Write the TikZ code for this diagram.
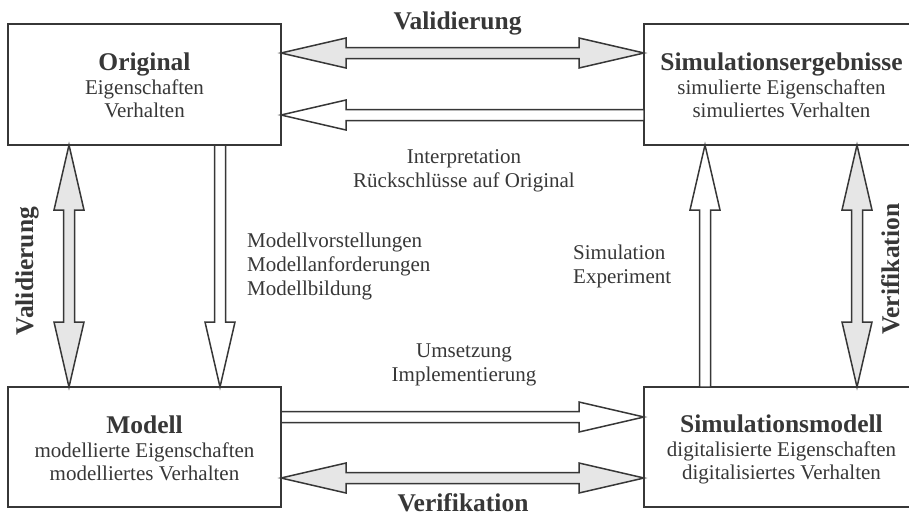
\documentclass[tikz,border=0pt]{standalone}
\usepackage{fontspec}
\setmainfont{Liberation Serif}
\usetikzlibrary{calc,positioning}

\definecolor{ink}{RGB}{55,55,55}
\definecolor{shade}{RGB}{230,230,230}

\newcommand{\headlen}{65pt}
\newcommand{\headw}{15pt}
\newcommand{\shaftw}{5.5pt}

% block arrow with one head, from #2 to #3
\newcommand{\onearrow}[3][white]{%
  \coordinate (hb) at ($(#3)!\headlen!(#2)$);
  \draw[blockarrow, fill=#1] ($(#2)!\shaftw!90:(#3)$) -- ($(hb)!\shaftw!90:(#3)$)
    -- ($(hb)!\headw!90:(#3)$) -- (#3) -- ($(hb)!\headw!-90:(#3)$)
    -- ($(hb)!\shaftw!-90:(#3)$) -- ($(#2)!\shaftw!-90:(#3)$) -- cycle;}

% block arrow with two heads
\newcommand{\twoarrow}[3][shade]{%
  \coordinate (ha) at ($(#2)!\headlen!(#3)$);
  \coordinate (hb) at ($(#3)!\headlen!(#2)$);
  \draw[blockarrow, fill=#1] (#2) -- ($(ha)!\headw!90:(#3)$) -- ($(ha)!\shaftw!90:(#3)$)
    -- ($(hb)!\shaftw!90:(#3)$) -- ($(hb)!\headw!90:(#3)$) -- (#3)
    -- ($(hb)!\headw!-90:(#3)$) -- ($(hb)!\shaftw!-90:(#3)$)
    -- ($(ha)!\shaftw!-90:(#3)$) -- ($(ha)!\headw!-90:(#3)$) -- cycle;}

\newcommand{\boxtitle}[1]{{\fontsize{25.5}{26}\selectfont\bfseries #1}}

\tikzset{
  box/.style={draw=ink, line width=1.8pt, inner sep=0pt, outer sep=0pt},
  boxtext/.style={text=ink, align=center, inner sep=0pt, anchor=base,
    font=\fontsize{21}{24}\selectfont},
  blockarrow/.style={draw=ink, line width=1.5pt},
  lbl/.style={text=ink, inner sep=0pt, font=\fontsize{21}{24}\selectfont},
  tag/.style={text=ink, inner sep=0pt, font=\fontsize{25.5}{26}\selectfont\bfseries}
}

\begin{document}
\begin{tikzpicture}[x=1pt, y=1pt]
  \useasboundingbox (0,0) rectangle (909,-517);

  % the four boxes
  \node[box, minimum width=273pt, minimum height=121pt] (orig) at (144.5,-84.5) {};
  \node[box, minimum width=275pt, minimum height=121pt] (sres) at (781.5,-84.5) {};
  \node[box, minimum width=273pt, minimum height=120pt] (modell) at (144.5,-447) {};
  \node[box, minimum width=275pt, minimum height=120pt] (smod) at (781.5,-447) {};

  \node[boxtext] (orig-t) at ($(orig.south)+(0,28)$)
    {\boxtitle{Original}\\[-0.5pt]Eigenschaften\\[-1pt]Verhalten};
  \node[boxtext] (sres-t) at ($(sres.south)+(0,28)$)
    {\boxtitle{Simulationsergebnisse}\\[-0.5pt]simulierte Eigenschaften\\[-1pt]simuliertes Verhalten};
  \node[boxtext] (modell-t) at ($(modell.south)+(0,27)$)
    {\boxtitle{Modell}\\[-0.5pt]modellierte Eigenschaften\\[-1pt]modelliertes Verhalten};
  \node[boxtext] (smod-t) at ($(smod.south)+(0,28)$)
    {\boxtitle{Simulationsmodell}\\[-0.5pt]digitalisierte Eigenschaften\\[-1pt]digitalisiertes Verhalten};

  % arrow ends
  \coordinate (vt-a) at ($(orig.north east)+(0,-29)$);
  \coordinate (vt-b) at (vt-a -| sres.west);
  \coordinate (ip-a) at ($(sres.south west)+(0,30)$);
  \coordinate (ip-b) at (ip-a -| orig.east);
  \coordinate (vl-a) at ($(orig.south west)+(61,0)$);
  \coordinate (vl-b) at (vl-a |- modell.north);
  \coordinate (mb-a) at ($(orig.south west)+(212,0)$);
  \coordinate (mb-b) at (mb-a |- modell.north);
  \coordinate (se-a) at ($(smod.north west)+(61,0)$);
  \coordinate (se-b) at (se-a |- sres.south);
  \coordinate (vr-a) at ($(sres.south west)+(213,0)$);
  \coordinate (vr-b) at (vr-a |- smod.north);
  \coordinate (us-a) at ($(modell.north east)+(0,-30)$);
  \coordinate (us-b) at (us-a -| smod.west);
  \coordinate (vb-a) at ($(modell.south east)+(0,29)$);
  \coordinate (vb-b) at (vb-a -| smod.west);

  % arrows
  \twoarrow{vt-a}{vt-b}
  \onearrow{ip-a}{ip-b}
  \twoarrow{vl-a}{vl-b}
  \onearrow{mb-a}{mb-b}
  \onearrow{se-a}{se-b}
  \twoarrow{vr-a}{vr-b}
  \onearrow{us-a}{us-b}
  \twoarrow{vb-a}{vb-b}

  % labels
  \node[tag, anchor=base] (valtop) at (457.5,-29) {Validierung};
  \node[tag, anchor=base] (verbot) at (463,-511) {Verifikation};
  \node[tag, rotate=90, anchor=base] (valleft) at (33,-271) {Validierung};
  \node[tag, rotate=90, anchor=base] (verright) at (899,-269) {Verifikation};

  \node[lbl, align=center, anchor=base] (interp) at (464,-187)
    {Interpretation\\Rückschlüsse auf Original};
  \node[lbl, align=left, anchor=base west] (mbild) at (247,-295)
    {Modellvorstellungen\\Modellanforderungen\\Modellbildung};
  \node[lbl, align=left, anchor=base west] (simexp) at (573,-283)
    {Simulation\\Experiment};
  \node[lbl, align=center, anchor=base] (umsetz) at (464,-381)
    {Umsetzung\\Implementierung};
\end{tikzpicture}
\end{document}
